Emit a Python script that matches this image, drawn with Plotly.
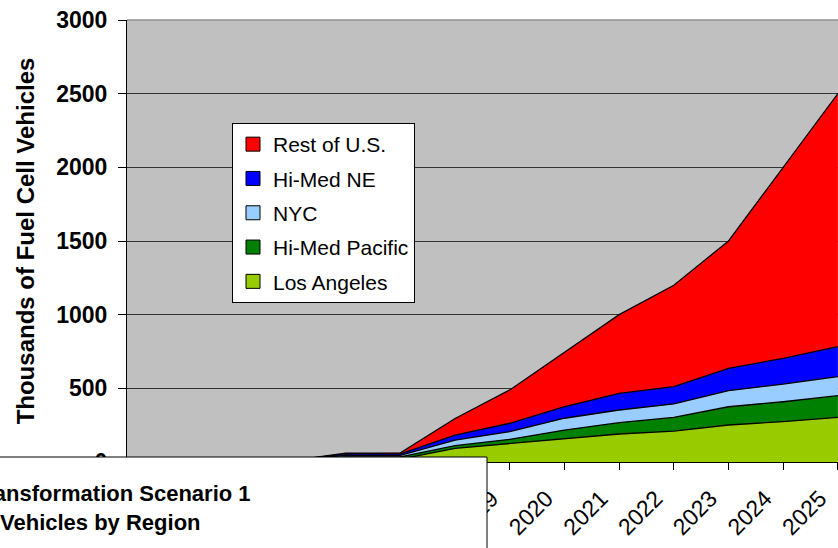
import plotly.graph_objects as go

years = list(range(2012, 2026))
year_labels = [str(y) for y in years]

los_angeles = [0, 0, 0, 3, 20, 20, 93, 127, 161, 190, 210, 251, 274, 303]
hi_med_pacific = [0, 0, 0, 2, 15, 15, 18, 27, 56, 77, 93, 124, 135, 147]
nyc = [0, 0, 0, 2, 10, 10, 38, 52, 80, 86, 91, 109, 120, 130]
hi_med_ne = [0, 0, 0, 2, 10, 10, 34, 57, 78, 113, 117, 152, 175, 203]
rest_of_us = [0, 0, 0, 1, 5, 7, 112, 226, 370, 534, 689, 864, 1296, 1717]

series_names = ["Los Angeles", "Hi-Med Pacific", "NYC", "Hi-Med NE", "Rest of U.S."]
series_values = [los_angeles, hi_med_pacific, nyc, hi_med_ne, rest_of_us]
series_colors = ["#99CC00", "#008000", "#99CCFF", "#0000FF", "#FF0000"]

y_ticks = [0, 500, 1000, 1500, 2000, 2500, 3000]

FONT = "Arial, Liberation Sans, sans-serif"

fig = go.Figure()
for name, vals, col in zip(series_names, series_values, series_colors):
    fig.add_trace(go.Scatter(
        x=years, y=vals, name=name, mode="lines", stackgroup="one",
        line=dict(color="black", width=1.3), fillcolor=col,
        showlegend=False, hoverinfo="x+y+name",
    ))
# legend entries (square swatches), top entry = last stacked series
n = len(series_names)
for i, (name, col) in enumerate(zip(series_names, series_colors)):
    fig.add_trace(go.Scatter(
        x=[None], y=[None], name=name, mode="markers", legendgroup=name,
        legendrank=n - i,
        marker=dict(symbol="square", size=14, color=col, line=dict(color="black", width=1)),
    ))

fig.update_layout(
    width=838, height=548,
    margin=dict(l=127, r=0, t=20, b=86),
    paper_bgcolor="white", plot_bgcolor="#C0C0C0",
    font=dict(family=FONT, color="black"),
    showlegend=True,
    legend=dict(
        x=(232 - 127) / 711, y=1 - (123 - 20) / 442, xanchor="left", yanchor="top",
        bgcolor="white", bordercolor="black", borderwidth=1,
        font=dict(size=21, family=FONT), traceorder="grouped",
        tracegroupgap=4, itemwidth=30,
    ),
    xaxis=dict(
        range=[2012, 2025.002], tickvals=years, ticktext=year_labels,
        tickangle=-45, tickfont=dict(size=23, family=FONT),
        ticks="outside", ticklen=7, tickcolor="black",
        ticklabelstandoff=6, ticklabelshift=-18, ticklabeloverflow="allow",
        showline=True, linecolor="black", linewidth=1,
        showgrid=False, zeroline=False, automargin=False,
    ),
    yaxis=dict(
        range=[0, 3000], tickvals=y_ticks,
        tickfont=dict(size=23, family=FONT, weight="bold"),
        ticks="outside", ticklen=8, tickcolor="black", ticklabelstandoff=6,
        showline=True, linecolor="black", linewidth=1,
        showgrid=True, gridcolor="#333333", gridwidth=1, zeroline=False,
        automargin=False,
        title=dict(text="Thousands of Fuel Cell Vehicles",
                   font=dict(size=24, family=FONT, weight="bold"), standoff=14),
    ),
    shapes=[
        dict(type="rect", xref="paper", yref="paper",
             x0=-0.2, x1=(487 - 127) / 711, y0=-0.25, y1=1 - (457 - 20) / 442,
             fillcolor="white", line=dict(color="black", width=1), layer="above"),
        dict(type="line", xref="paper", yref="paper", x0=0, x1=1, y0=1, y1=1,
             line=dict(color="#909090", width=1.5), layer="above"),
    ],
    annotations=[
        dict(text="<b>Transformation Scenario 1</b>", xref="paper", yref="paper",
             x=(253 - 127) / 711, y=1 - (493 - 20) / 442, xanchor="right", yanchor="middle",
             showarrow=False, font=dict(size=22, family=FONT)),
        dict(text="<b>Vehicles by Region</b>", xref="paper", yref="paper",
             x=(203 - 127) / 711, y=1 - (522 - 20) / 442, xanchor="right", yanchor="middle",
             showarrow=False, font=dict(size=22, family=FONT)),
    ],
)

fig.write_html("out.html", config={"displayModeBar": False},
               post_script="document.body.style.margin='0';")
